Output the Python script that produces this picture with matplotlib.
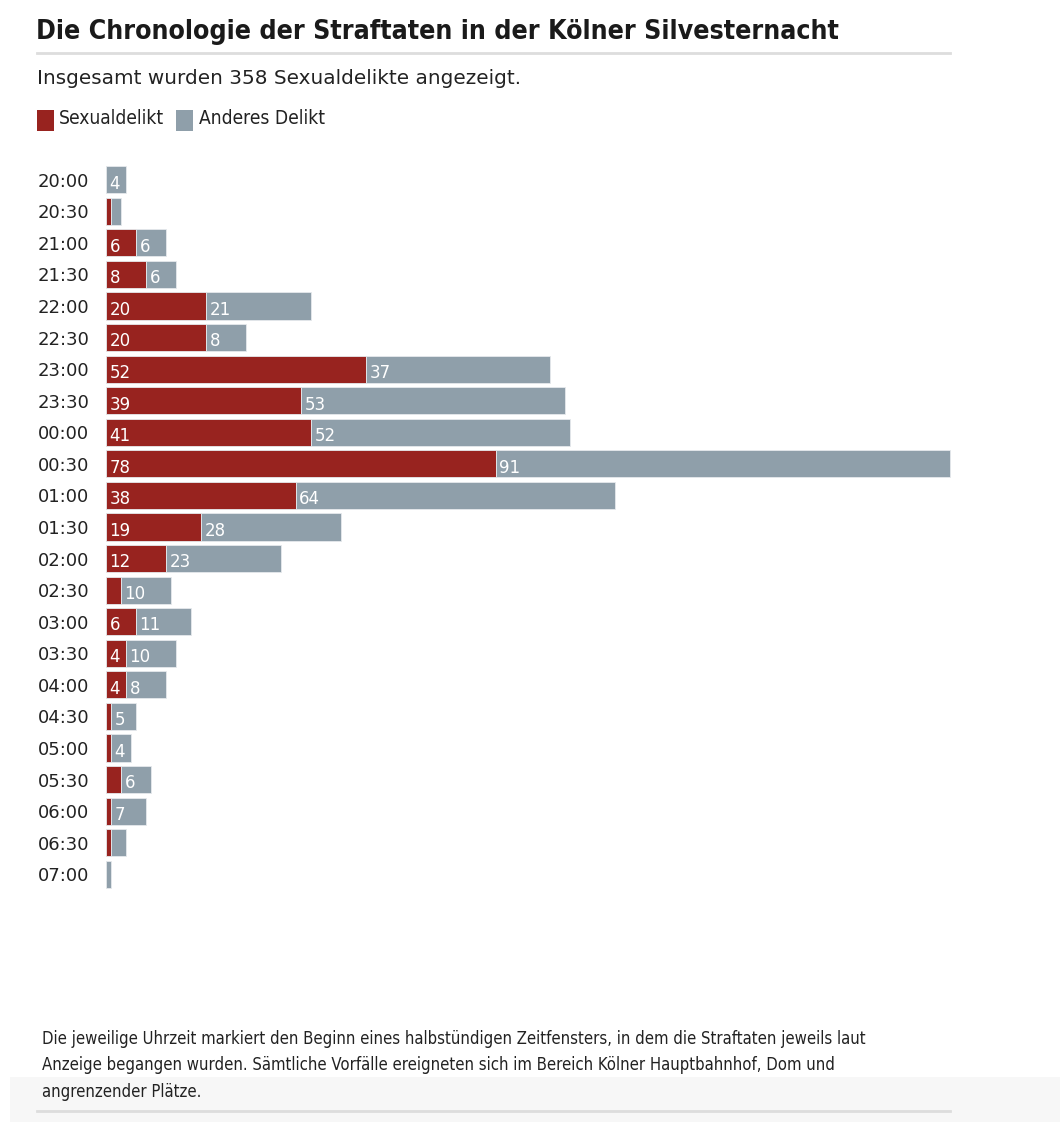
import matplotlib
matplotlib.use('Agg')
import matplotlib.pyplot as plt
from matplotlib.patches import Rectangle
from matplotlib.lines import Line2D
import numpy as np

# Zeitfenster (Beginn eines halbstündigen Fensters)
times = ['20:00', '20:30', '21:00', '21:30', '22:00', '22:30', '23:00', '23:30',
         '00:00', '00:30', '01:00', '01:30', '02:00', '02:30', '03:00', '03:30',
         '04:00', '04:30', '05:00', '05:30', '06:00', '06:30', '07:00']
sexual = [0, 1, 6, 8, 20, 20, 52, 39, 41, 78, 38, 19, 12, 3, 6, 4, 4, 1, 1, 3, 1, 1, 0]
other = [4, 2, 6, 6, 21, 8, 37, 53, 52, 91, 64, 28, 23, 10, 11, 10, 8, 5, 4, 6, 7, 3, 1]

RED = '#98231f'
GRAY = '#8f9faa'
W, H = 1060, 1122

fig = plt.figure(figsize=(W / 100, H / 100), dpi=100)


def fx(px):
    return px / W


def fy(py):
    return 1 - py / H


# footer background
fig.patches.append(Rectangle((fx(10), 0), fx(1060 - 10), fy(1077), transform=fig.transFigure,
                             facecolor='#f7f7f7', edgecolor='none', zorder=0))

# bars
ax = fig.add_axes([fx(106), fy(890), fx(951 - 106), fy(164) - fy(890)])
y = np.arange(len(times))
ax.barh(y, sexual, height=0.86, color=RED, edgecolor='#e6e9ec', linewidth=0.6)
ax.barh(y, other, left=sexual, height=0.86, color=GRAY, edgecolor='#e6e9ec', linewidth=0.6)
ax.set_xlim(0, 169.2)
ax.set_ylim(len(times) - 0.5, -0.5)

# only label segments that are wide enough
for i in range(len(times)):
    if sexual[i] >= 4:
        ax.text(0.7, i + 0.12, str(sexual[i]), color='white', fontsize=12,
                ha='left', va='center')
    if other[i] >= 4:
        ax.text(sexual[i] + 0.7, i + 0.12, str(other[i]), color='white', fontsize=12,
                ha='left', va='center')

ax.set_yticks(y)
ax.set_yticklabels(times)
ax.tick_params(axis='y', length=0, pad=12, labelsize=13, labelcolor='#222222')
ax.set_xticks([])
for s in ax.spines.values():
    s.set_visible(False)

# header
fig.text(fx(36), fy(32), 'Die Chronologie der Straftaten in der Kölner Silvesternacht',
         fontsize=19.2, fontweight='bold', fontstretch='condensed', color='#1a1a1a', va='center')
fig.add_artist(Line2D([fx(37), fx(950)], [fy(53), fy(53)], transform=fig.transFigure,
                      color='#dddddd', linewidth=2))
fig.text(fx(37), fy(78), 'Insgesamt wurden 358 Sexualdelikte angezeigt.',
         fontsize=14.4, color='#222222', va='center')

# legend
fig.patches.append(Rectangle((fx(37), fy(131)), fx(17), fy(110) - fy(131),
                             transform=fig.transFigure, facecolor=RED, edgecolor='none'))
fig.text(fx(59), fy(119), 'Sexualdelikt', fontsize=13.8, fontstretch='condensed',
         color='#222222', va='center')
fig.patches.append(Rectangle((fx(176), fy(131)), fx(17), fy(110) - fy(131),
                             transform=fig.transFigure, facecolor=GRAY, edgecolor='none'))
fig.text(fx(199), fy(119), 'Anderes Delikt', fontsize=13.8, fontstretch='condensed',
         color='#222222', va='center')

# footer
note = ('Die jeweilige Uhrzeit markiert den Beginn eines halbstündigen Zeitfensters, in dem die Straftaten jeweils laut\n'
        'Anzeige begangen wurden. Sämtliche Vorfälle ereigneten sich im Bereich Kölner Hauptbahnhof, Dom und\n'
        'angrenzender Plätze.')
fig.text(fx(42), fy(1030), note, fontsize=12, fontstretch='condensed', color='#222222',
         va='top', linespacing=1.6)
fig.add_artist(Line2D([fx(37), fx(950)], [fy(1111), fy(1111)], transform=fig.transFigure,
                      color='#dddddd', linewidth=2))

fig.savefig('out.png', dpi=100)
